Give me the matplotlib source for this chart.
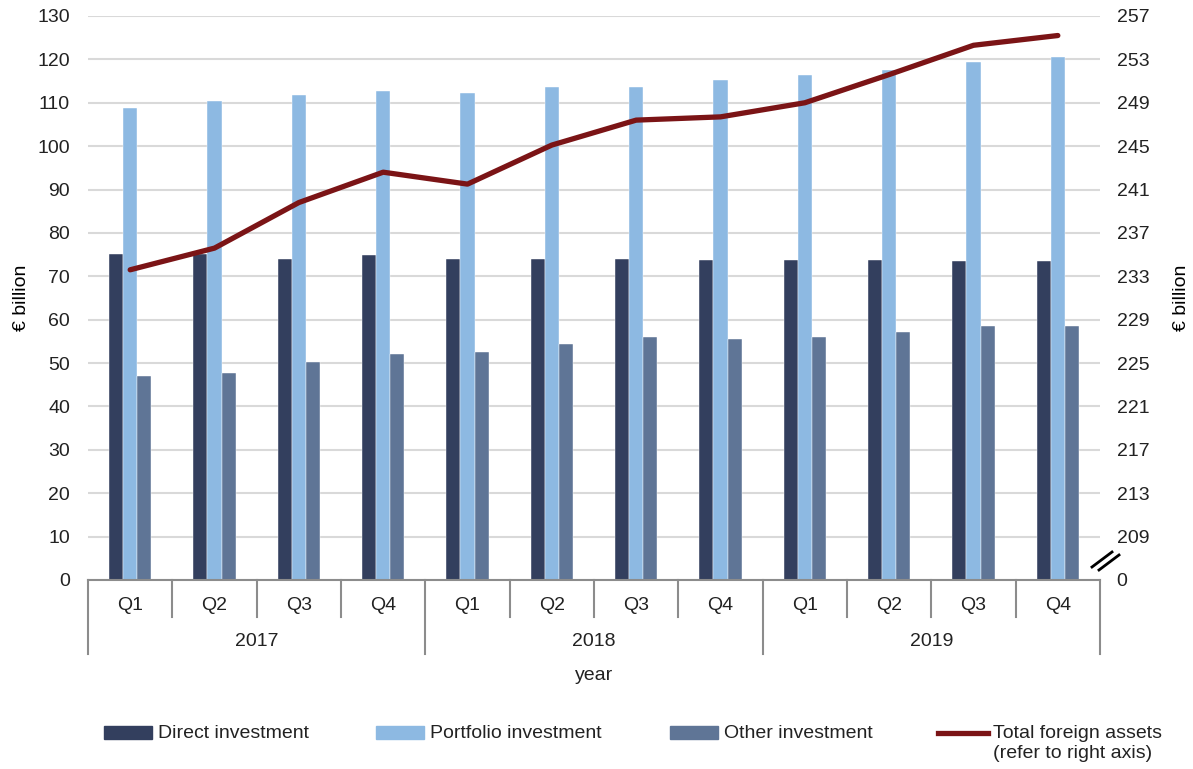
import matplotlib.pyplot as plt
import numpy as np
from matplotlib.lines import Line2D
from matplotlib.patches import Rectangle

plt.rcParams['font.family'] = ['Liberation Sans', 'DejaVu Sans']

quarters = ['Q1', 'Q2', 'Q3', 'Q4'] * 3
years = ['2017', '2018', '2019']

# € billion, left axis
direct = [75.1, 75.1, 74.0, 74.9, 73.9, 73.9, 73.9, 73.8, 73.7, 73.8, 73.6, 73.5]
portfolio = [108.8, 110.4, 111.9, 112.8, 112.3, 113.6, 113.6, 115.2, 116.3, 117.6, 119.3, 120.5]
other = [47.1, 47.7, 50.3, 52.2, 52.6, 54.4, 56.1, 55.5, 55.9, 57.2, 58.5, 58.6]
# € billion, right axis
total = [233.6, 235.6, 239.8, 242.6, 241.5, 245.1, 247.4, 247.7, 249.0, 251.6, 254.3, 255.2]

c_direct = '#333f5e'
c_portfolio = '#8db9e2'
c_other = '#5f7596'
c_total = '#7b1416'
grid_c = '#d9d9d9'
axis_c = '#8c8c8c'
txt_c = '#222222'
fs = 14

W, H = 1193, 769
fig = plt.figure(figsize=(W / 100, H / 100), dpi=100)
ax = fig.add_axes([88 / W, 1 - 580 / H, (1100 - 88) / W, 564 / H])
ax2 = ax.twinx()

x = np.arange(len(quarters))
w = 0.167
ax.bar(x - w, direct, w, color=c_direct, edgecolor='white', linewidth=0.3, zorder=2)
ax.bar(x, portfolio, w, color=c_portfolio, edgecolor='white', linewidth=0.3, zorder=2)
ax.bar(x + w, other, w, color=c_other, edgecolor='white', linewidth=0.3, zorder=2)

ax.set_xlim(-0.5, len(x) - 0.5)
ax.set_ylim(0, 130)
ax.set_yticks(np.arange(0, 131, 10))
ax.yaxis.grid(True, color=grid_c, linewidth=1.5, zorder=0)
ax.set_axisbelow(True)
ax.set_xticks([])
ax.tick_params(axis='y', length=0, labelsize=fs, pad=13, colors=txt_c)
for s in ['top', 'left', 'right']:
    ax.spines[s].set_visible(False)
ax.spines['bottom'].set_color(axis_c)
ax.spines['bottom'].set_linewidth(1.5)
ax.set_ylabel('€ billion', fontsize=fs, labelpad=5)

# right axis: 0 then a break, 209..257
ax2.set_ylim(205, 257)
ax2.set_yticks([205] + list(range(209, 258, 4)))
ax2.set_yticklabels(['0'] + [str(v) for v in range(209, 258, 4)])
ax2.tick_params(axis='y', length=0, labelsize=fs, pad=12, colors=txt_c)
for s in ax2.spines.values():
    s.set_visible(False)
ax2.set_ylabel('€ billion', fontsize=fs, labelpad=17)
ax2.plot(x, total, color=c_total, linewidth=3.8, solid_capstyle='round', zorder=5)

# axis break marks
for dx, dy in ((0, 0), (7, 3)):
    fig.add_artist(Line2D([(1092 + dx) / W, (1112 + dx) / W],
                          [1 - (567 + dy) / H, 1 - (552 + dy) / H],
                          color='black', linewidth=2))

# multi-level category axis
tr = ax.get_xaxis_transform()
q_depth = 37 / 564
y_depth = 74 / 564
for b in np.arange(-0.5, len(x), 1):
    depth = y_depth if (b + 0.5) % 4 == 0 else q_depth
    ax.plot([b, b], [0, -depth], transform=tr, color=axis_c, linewidth=1.5, clip_on=False)
for i, q in enumerate(quarters):
    ax.text(i, -25 / 564, q, transform=tr, ha='center', va='center', fontsize=fs, color=txt_c)
for j, yr in enumerate(years):
    ax.text(j * 4 + 1.5, -61 / 564, yr, transform=tr, ha='center', va='center', fontsize=fs, color=txt_c)
ax.text(0.5, -96 / 564, 'year', transform=ax.transAxes, ha='center', va='center', fontsize=fs, color=txt_c)

# legend, laid out by hand
legend_items = [('Direct investment', c_direct, 104),
                ('Portfolio investment', c_portfolio, 376),
                ('Other investment', c_other, 670)]
for label, col, x0 in legend_items:
    fig.add_artist(Rectangle((x0 / W, 1 - 739 / H), 48 / W, 13 / H, color=col, transform=fig.transFigure))
    fig.text((x0 + 54) / W, 1 - 733 / H, label, ha='left', va='center', fontsize=fs, color=txt_c)
fig.add_artist(Line2D([938 / W, 988 / W], [1 - 733 / H, 1 - 733 / H], color=c_total, linewidth=3.8))
fig.text(993 / W, 1 - 733 / H, 'Total foreign assets', ha='left', va='center', fontsize=fs, color=txt_c)
fig.text(993 / W, 1 - 753 / H, '(refer to right axis)', ha='left', va='center', fontsize=fs, color=txt_c)

fig.savefig('out.png', dpi=100)
